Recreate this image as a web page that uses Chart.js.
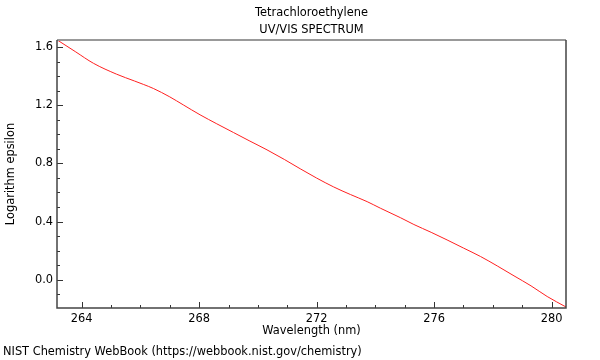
<!DOCTYPE html>
<html>
<head>
<meta charset="utf-8">
<script src="https://cdn.jsdelivr.net/npm/chart.js@4.4.1/dist/chart.umd.min.js"></script>
<style>
  html, body { margin: 0; padding: 0; background: #fff; }
  #wrap { width: 600px; height: 360px; }
</style>
</head>
<body>
<div id="wrap"><canvas id="spectrum"></canvas></div>
<script>
// Spectrum values
const wavelength = [263.17, 263.8, 264.4, 265.19, 265.8, 266.1, 266.44, 267.0, 267.46, 268.03,
  268.6, 269.17, 269.7, 270.31, 270.9, 271.44, 272.0, 272.58, 273.15, 273.72, 274.17,
  274.85, 275.31, 275.9, 276.44, 277.0, 277.58, 278.15, 278.72, 279.3, 279.85, 280.49];
const logEpsilon = [1.648, 1.566, 1.488, 1.413, 1.366, 1.343, 1.315, 1.257, 1.202, 1.134,
  1.072, 1.012, 0.956, 0.893, 0.827, 0.763, 0.699, 0.638, 0.586, 0.537, 0.492,
  0.427, 0.38, 0.326, 0.274, 0.218, 0.16, 0.095, 0.027, -0.042, -0.115, -0.187];

// Axis ticks
const xMajorTicks = [264, 268, 272, 276, 280];
const xMinorTicks = [264, 265, 266, 267, 268, 269, 270, 271, 272, 273, 274, 275, 276, 277, 278, 279, 280];
const yMajorTicks = [0.0, 0.4, 0.8, 1.2, 1.6];
const yMinorTicks = [-0.1, 0.0, 0.1, 0.2, 0.3, 0.4, 0.5, 0.6, 0.7, 0.8, 0.9, 1.0, 1.1, 1.2, 1.3, 1.4, 1.5, 1.6];

const titleLines = ['Tetrachloroethylene', 'UV/VIS SPECTRUM'];
const xTitle = 'Wavelength (nm)';
const yTitle = 'Logarithm epsilon';
const footer = 'NIST Chemistry WebBook (https://webbook.nist.gov/chemistry)';

const FAMILY = '"DejaVu Sans", sans-serif';
const SIZE = 11.4;
const FONT = SIZE + 'px ' + FAMILY;

// Frame, inward tick marks and the extra text
const framePlugin = {
  id: 'frame',
  afterDraw(chart) {
    const ctx = chart.ctx;
    const a = chart.chartArea;
    const xs = chart.scales.x;
    const ys = chart.scales.y;
    ctx.save();

    // tick marks pointing into the plot
    ctx.strokeStyle = '#333';
    ctx.lineWidth = 1;
    ctx.beginPath();
    xMinorTicks.forEach(v => {
      const px = Math.round(xs.getPixelForValue(v)) + 0.5;
      const len = xMajorTicks.includes(v) ? 6 : 3;
      ctx.moveTo(px, a.bottom);
      ctx.lineTo(px, a.bottom - len);
    });
    yMinorTicks.forEach(v => {
      const py = Math.round(ys.getPixelForValue(v)) + 0.5;
      const len = yMajorTicks.some(m => Math.abs(m - v) < 1e-9) ? 6 : 3;
      ctx.moveTo(a.left, py);
      ctx.lineTo(a.left + len, py);
    });
    ctx.stroke();

    // frame: grey top, dark left/right/bottom
    ctx.strokeStyle = '#999';
    ctx.lineWidth = 2;
    ctx.beginPath();
    ctx.moveTo(a.left, a.top);
    ctx.lineTo(a.right, a.top);
    ctx.stroke();
    ctx.strokeStyle = '#444';
    ctx.lineWidth = 1.5;
    ctx.beginPath();
    ctx.moveTo(a.right, a.top);
    ctx.lineTo(a.right, a.bottom);
    ctx.lineTo(a.left, a.bottom);
    ctx.lineTo(a.left, a.top);
    ctx.stroke();

    // titles
    const cx = (a.left + a.right) / 2;
    ctx.fillStyle = '#000';
    ctx.font = FONT;
    ctx.textAlign = 'center';
    ctx.textBaseline = 'middle';
    ctx.fillText(titleLines[0], cx, 13);
    ctx.fillText(titleLines[1], cx, 30);
    ctx.fillText(xTitle, cx, 331);

    ctx.save();
    ctx.translate(11, (a.top + a.bottom) / 2);
    ctx.rotate(-Math.PI / 2);
    ctx.fillText(yTitle, 0, 0);
    ctx.restore();

    ctx.textAlign = 'left';
    ctx.fillText(footer, 3, 352);
    ctx.restore();
  }
};

new Chart(document.getElementById('spectrum'), {
  type: 'scatter',
  data: {
    datasets: [{
      data: wavelength.map((w, i) => ({ x: w, y: logEpsilon[i] })),
      showLine: true,
      borderColor: '#ff2020',
      borderWidth: 1,
      pointRadius: 0,
      cubicInterpolationMode: 'monotone'
    }]
  },
  options: {
    responsive: true,
    maintainAspectRatio: false,
    animation: false,
    layout: { padding: { top: 40, right: 34, bottom: 0, left: 0 } },
    plugins: {
      legend: { display: false },
      tooltip: { enabled: false }
    },
    scales: {
      x: {
        type: 'linear',
        min: 263.16,
        max: 280.49,
        grid: { display: false, drawTicks: false, tickLength: 0 },
        border: { display: false },
        afterBuildTicks: s => { s.ticks = xMajorTicks.map(v => ({ value: v })); },
        afterFit: s => { s.height = 52; },
        ticks: {
          color: '#000',
          padding: 4,
          maxRotation: 0,
          font: { family: FAMILY, size: SIZE },
          callback: v => String(v)
        }
      },
      y: {
        type: 'linear',
        min: -0.194,
        max: 1.648,
        grid: { display: false, drawTicks: false, tickLength: 0 },
        border: { display: false },
        afterBuildTicks: s => { s.ticks = yMajorTicks.map(v => ({ value: v })); },
        afterFit: s => { s.width = 57; },
        ticks: {
          color: '#000',
          padding: 4,
          font: { family: FAMILY, size: SIZE },
          callback: v => Number(v).toFixed(1)
        }
      }
    }
  },
  plugins: [framePlugin]
});
</script>
</body>
</html>
